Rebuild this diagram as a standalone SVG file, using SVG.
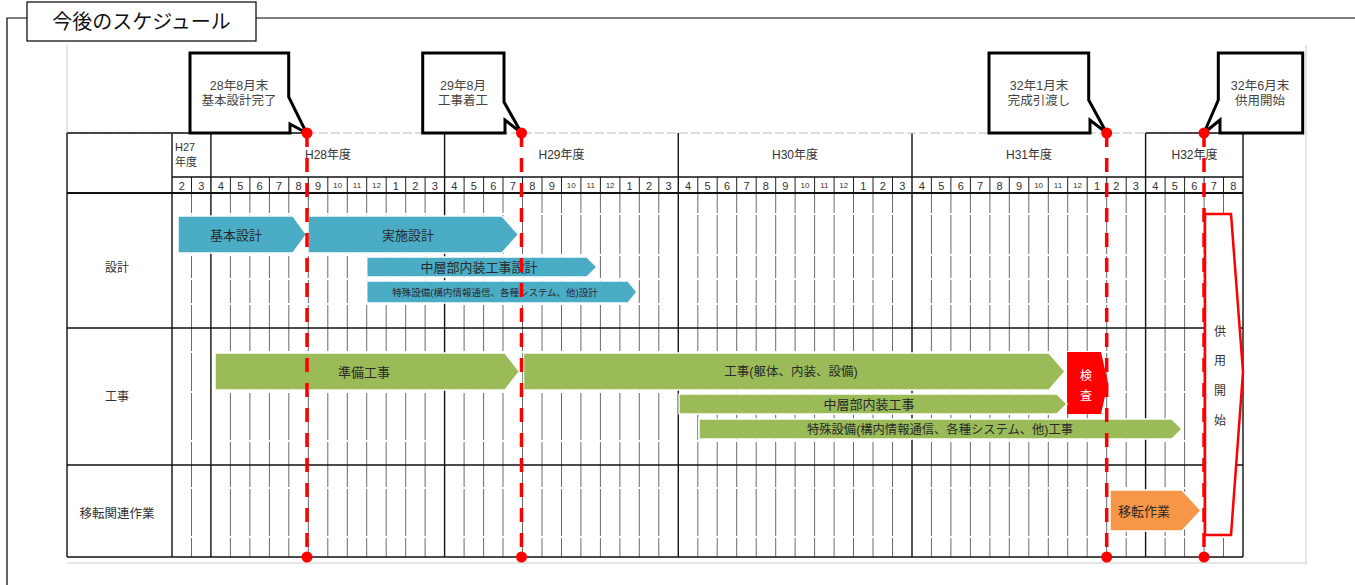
<svg xmlns="http://www.w3.org/2000/svg" width="1355" height="585" viewBox="0 0 1355 585">
<style>
text{font-family:"Liberation Sans","Noto Sans CJK JP",sans-serif;fill:#333;dominant-baseline:central}
.c{text-anchor:middle}
.m{font-size:11px;text-anchor:middle}
.m2{font-size:8px;text-anchor:middle}
.hd{font-size:12px;text-anchor:middle}
.bt{font-size:13px;text-anchor:middle;fill:#2a2a2a}
.blue{fill:#4bacc6;stroke:#fff;stroke-width:1.5}
.green{fill:#9bbb59;stroke:#fff;stroke-width:1.5}
.orange{fill:#f79646;stroke:#fff;stroke-width:1.5}
.call{fill:#fff;stroke:#000;stroke-width:3;stroke-linejoin:miter}
.ct{font-size:12.5px;text-anchor:middle;fill:#444}
.ms{stroke:#f00;stroke-width:3.5;stroke-dasharray:14 11;fill:none}
.dot{fill:#f00}
</style>

<g id="frame">
<path d="M7 585V18H27M256 18H1355" fill="none" stroke="#000" stroke-width="1.2"/>
<rect x="27" y="2" width="229" height="39" fill="#fff" stroke="#000" stroke-width="1.2"/>
<text x="141.5" y="22" class="c" style="font-size:20px;fill:#111">今後のスケジュール</text>
<path d="M67 45V133M1306 45V565M67 563H1306" stroke="#ddd" stroke-width="1.5" fill="none"/>
</g>

<g id="grid">
<path d="M191.5 193V557M230.4 193V557M249.9 193V557M269.4 193V557M288.8 193V557M308.3 193V557M327.8 193V557M347.3 193V557M366.7 193V557M386.2 193V557M405.7 193V557M425.1 193V557M464.1 193V557M483.6 193V557M503 193V557M522.5 193V557M542 193V557M561.5 193V557M580.9 193V557M600.4 193V557M619.9 193V557M639.3 193V557M658.8 193V557M697.8 193V557M717.2 193V557M736.7 193V557M756.2 193V557M775.7 193V557M795.1 193V557M814.6 193V557M834.1 193V557M853.5 193V557M873 193V557M892.5 193V557M931.4 193V557M950.9 193V557M970.4 193V557M989.9 193V557M1009.3 193V557M1028.8 193V557M1048.3 193V557M1067.7 193V557M1087.2 193V557M1106.7 193V557M1126.2 193V557M1165.1 193V557M1184.6 193V557M1204.1 193V557M1223.5 193V557" stroke="#6a6a6a" stroke-width="1" fill="none"/>
<path d="M191.5 177V193M230.4 177V193M249.9 177V193M269.4 177V193M288.8 177V193M308.3 177V193M327.8 177V193M347.3 177V193M366.7 177V193M386.2 177V193M405.7 177V193M425.1 177V193M464.1 177V193M483.6 177V193M503 177V193M522.5 177V193M542 177V193M561.5 177V193M580.9 177V193M600.4 177V193M619.9 177V193M639.3 177V193M658.8 177V193M697.8 177V193M717.2 177V193M736.7 177V193M756.2 177V193M775.7 177V193M795.1 177V193M814.6 177V193M834.1 177V193M853.5 177V193M873 177V193M892.5 177V193M931.4 177V193M950.9 177V193M970.4 177V193M989.9 177V193M1009.3 177V193M1028.8 177V193M1048.3 177V193M1067.7 177V193M1087.2 177V193M1106.7 177V193M1126.2 177V193M1165.1 177V193M1184.6 177V193M1204.1 177V193M1223.5 177V193" stroke="#222" stroke-width="1" fill="none"/>
<path d="M173 214H1242M173 255H1242M173 279H1242M173 304H1242M173 352H1242M173 392H1242M173 441H1242M173 488H1242M173 537H1242" stroke="#fff" stroke-width="2" fill="none"/>
<path d="M67 133V557M172 133V557M210.9 133V557M444.6 133V557M678.3 133V557M912 133V557M1145.6 133V557M1243 133V557" stroke="#111" stroke-width="1.4" fill="none"/>
<path d="M67 133H1243" stroke="#bbb" stroke-width="1.2" stroke-dasharray="9 3"/>
<path d="M67 133H307M1145.6 133H1243" stroke="#111" stroke-width="1.4"/>
<path d="M172 177H1243" stroke="#111" stroke-width="1.4"/>
<path d="M67 193H1243" stroke="#111" stroke-width="2"/>
<path d="M67 328H1243M67 465H1243M67 557H1243" stroke="#111" stroke-width="1.6"/>
<text x="175" y="147" style="font-size:11px">H27</text>
<text x="175" y="162" style="font-size:11px">年度</text>
<text x="328" y="155" class="hd">H28年度</text>
<text x="561.5" y="155" class="hd">H29年度</text>
<text x="795" y="155" class="hd">H30年度</text>
<text x="1029" y="155" class="hd">H31年度</text>
<text x="1194.5" y="155" class="hd">H32年度</text>
<g>
<text x="181.7" y="185.5" class="m">2</text><text x="201.2" y="185.5" class="m">3</text>
<text x="220.7" y="185.5" class="m">4</text><text x="240.2" y="185.5" class="m">5</text><text x="259.6" y="185.5" class="m">6</text><text x="279.1" y="185.5" class="m">7</text><text x="298.6" y="185.5" class="m">8</text><text x="318" y="185.5" class="m">9</text><text x="337.5" y="185.5" class="m2">10</text><text x="357" y="185.5" class="m2">11</text><text x="376.5" y="185.5" class="m2">12</text><text x="395.9" y="185.5" class="m">1</text><text x="415.4" y="185.5" class="m">2</text><text x="434.9" y="185.5" class="m">3</text>
<text x="454.4" y="185.5" class="m">4</text><text x="473.8" y="185.5" class="m">5</text><text x="493.3" y="185.5" class="m">6</text><text x="512.8" y="185.5" class="m">7</text><text x="532.3" y="185.5" class="m">8</text><text x="551.7" y="185.5" class="m">9</text><text x="571.2" y="185.5" class="m2">10</text><text x="590.7" y="185.5" class="m2">11</text><text x="610.1" y="185.5" class="m2">12</text><text x="629.6" y="185.5" class="m">1</text><text x="649.1" y="185.5" class="m">2</text><text x="668.6" y="185.5" class="m">3</text>
<text x="688" y="185.5" class="m">4</text><text x="707.5" y="185.5" class="m">5</text><text x="727" y="185.5" class="m">6</text><text x="746.5" y="185.5" class="m">7</text><text x="765.9" y="185.5" class="m">8</text><text x="785.4" y="185.5" class="m">9</text><text x="804.9" y="185.5" class="m2">10</text><text x="824.3" y="185.5" class="m2">11</text><text x="843.8" y="185.5" class="m2">12</text><text x="863.3" y="185.5" class="m">1</text><text x="882.8" y="185.5" class="m">2</text><text x="902.2" y="185.5" class="m">3</text>
<text x="921.7" y="185.5" class="m">4</text><text x="941.2" y="185.5" class="m">5</text><text x="960.7" y="185.5" class="m">6</text><text x="980.1" y="185.5" class="m">7</text><text x="999.6" y="185.5" class="m">8</text><text x="1019.1" y="185.5" class="m">9</text><text x="1038.6" y="185.5" class="m2">10</text><text x="1058" y="185.5" class="m2">11</text><text x="1077.5" y="185.5" class="m2">12</text><text x="1097" y="185.5" class="m">1</text><text x="1116.4" y="185.5" class="m">2</text><text x="1135.9" y="185.5" class="m">3</text>
<text x="1155.4" y="185.5" class="m">4</text><text x="1174.9" y="185.5" class="m">5</text><text x="1194.3" y="185.5" class="m">6</text><text x="1213.8" y="185.5" class="m">7</text><text x="1233.3" y="185.5" class="m">8</text>
</g>
<text x="117" y="268" class="c" style="font-size:12px">設計</text>
<text x="117" y="397" class="c" style="font-size:12px">工事</text>
<text x="117" y="514" class="c" style="font-size:12.5px">移転関連作業</text>
</g>

<g id="bar-kihon"><path class="blue" d="M178 216H293L306.5 234.5L293 253H178Z"/><text x="236" y="235" class="bt">基本設計</text></g>
<g id="bar-jisshi"><path class="blue" d="M308 216H502L518.5 234.5L502 253H308Z"/><text x="408" y="235" class="bt">実施設計</text></g>
<g id="bar-chuso-sekkei"><path class="blue" d="M366.7 257H587L597 267L587 277H366.7Z"/><text x="479" y="267" class="bt">中層部内装工事設計</text></g>
<g id="bar-tokushu-sekkei"><path class="blue" d="M366.7 281H628L637 292L628 303H366.7Z"/><text x="495" y="292" class="bt" style="font-size:9.5px">特殊設備(構内情報通信、各種システム、他)設計</text></g>

<g id="bar-kensa"><path d="M1067 352H1101L1108 383L1101 414H1067Z" fill="#f00"/><text x="1086" y="376" class="c" style="font-size:12px;fill:#fff">検</text><text x="1086" y="396" class="c" style="font-size:12px;fill:#fff">査</text></g>
<g id="bar-junbi"><path class="green" d="M215 353H505L519.5 371.5L505 390H215Z"/><text x="364" y="372" class="bt">準備工事</text></g>
<g id="bar-koji"><path class="green" d="M523.5 353H1049L1065 371.5L1049 390H523.5Z"/><text x="791" y="372" class="bt" style="font-size:12.5px">工事(躯体、内装、設備)</text></g>
<g id="bar-chuso-koji"><path class="green" d="M679 394H1057L1067 404L1057 414H679Z"/><text x="869" y="404.5" class="bt">中層部内装工事</text></g>
<g id="bar-tokushu-koji"><path class="green" d="M699 419H1172L1182 429L1172 439H699Z"/><text x="940" y="429.5" class="bt" style="font-size:12.3px">特殊設備(構内情報通信、各種システム、他)工事</text></g>
<g id="bar-iten"><path class="orange" d="M1110 490H1182L1201 510.5L1182 531H1110Z"/><text x="1144" y="511" class="bt">移転作業</text></g>

<g id="bar-kyoyo"><path d="M1205 214H1231L1243 372L1231 535H1205Z" fill="#fff" stroke="#f00" stroke-width="2.5"/>
<text x="1220" y="332" class="c" style="font-size:12px">供</text><text x="1220" y="361" class="c" style="font-size:12px">用</text><text x="1220" y="391" class="c" style="font-size:12px">開</text><text x="1220" y="421" class="c" style="font-size:12px">始</text></g>

<g id="connectors">
<path class="ms" d="M307 133V557M521.5 133V557M1106.7 133V557M1204 133V557"/>
</g>

<g id="callout-1"><path class="call" d="M190 53H288.7V97L306.5 133L290 124V133H190Z"/><text x="239" y="86" class="ct">28年8月末</text><text x="239" y="101" class="ct">基本設計完了</text></g>
<g id="callout-2"><path class="call" d="M422.7 53H504V102L521.5 133L505 120V133H422.7Z"/><text x="463" y="86" class="ct">29年8月</text><text x="463" y="101" class="ct">工事着工</text></g>
<g id="callout-3"><path class="call" d="M989 53H1088.7V100L1106.7 133L1090 120V133H989Z"/><text x="1039" y="86" class="ct">32年1月末</text><text x="1039" y="101" class="ct">完成引渡し</text></g>
<g id="callout-4"><path class="call" d="M1218.3 53H1302.7V133H1220V120L1204 133L1218.3 100Z"/><text x="1260" y="86" class="ct">32年6月末</text><text x="1260" y="101" class="ct">供用開始</text></g>

<g id="milestone-dots">
<circle class="dot" cx="307" cy="133" r="5.5"/><circle class="dot" cx="521.5" cy="133" r="5.5"/><circle class="dot" cx="1106.7" cy="133" r="5.5"/><circle class="dot" cx="1204" cy="133" r="5.5"/>
<circle class="dot" cx="307" cy="557" r="5.5"/><circle class="dot" cx="521.5" cy="557" r="5.5"/><circle class="dot" cx="1106.7" cy="557" r="5.5"/><circle class="dot" cx="1204" cy="557" r="5.5"/>
</g>
</svg>
